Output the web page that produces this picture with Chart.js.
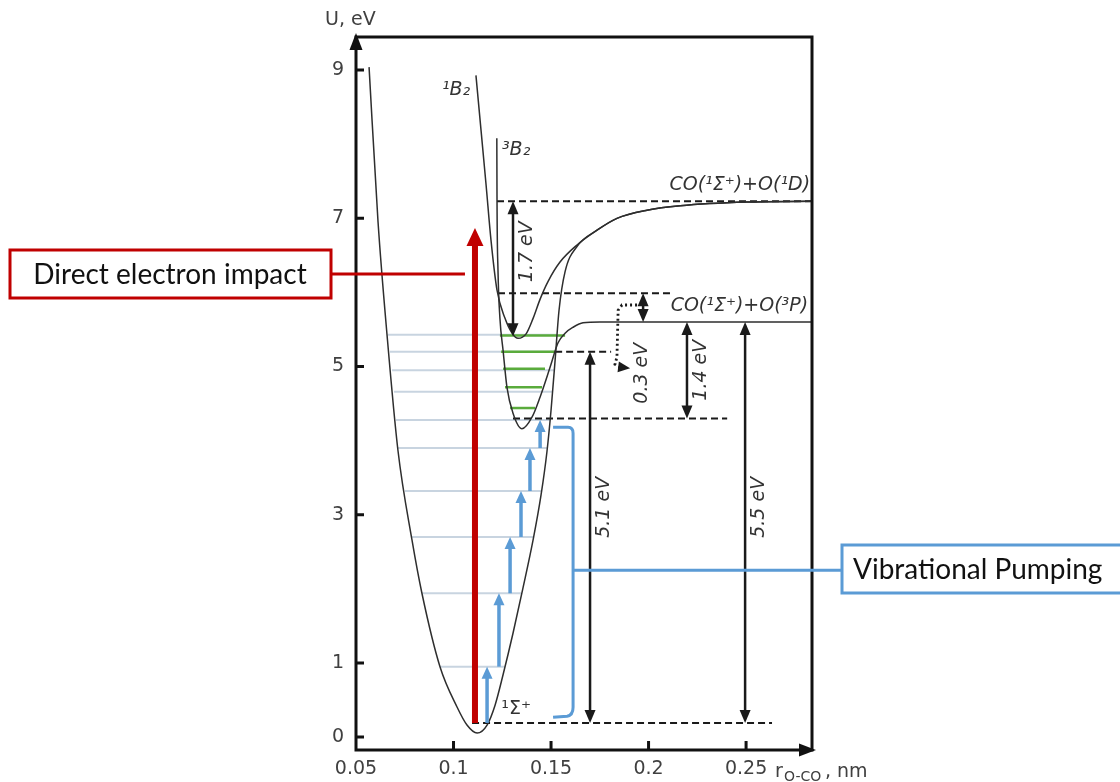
<!DOCTYPE html>
<html>
<head>
<meta charset="utf-8">
<script src="https://cdn.jsdelivr.net/npm/chart.js@4.4.1/dist/chart.umd.min.js"></script>
<style>
html, body { margin: 0; padding: 0; background: #fff; }
</style>
</head>
<body>
<canvas id="pes" width="1120" height="782"></canvas>
<script>
// axis ticks
const xTicks = [0.05, 0.1, 0.15, 0.2, 0.25];
const yTicks = [0, 1, 3, 5, 7, 9];

// potential curves (r in nm, U in eV)
const groundX = [0.0567, 0.0613, 0.0659, 0.0715, 0.0787, 0.0838, 0.0931, 0.1018, 0.1069, 0.1121, 0.1172, 0.1213, 0.1254, 0.1305, 0.1356, 0.1408, 0.1449, 0.1479, 0.1500, 0.1521, 0.1541, 0.1572, 0.1633, 0.1736, 0.1838, 0.1992, 0.2162, 0.2505, 0.2838];
const groundY = [9.04, 6.95, 5.43, 3.87, 2.66, 1.94, 0.945, 0.405, 0.162, 0.054, 0.162, 0.43, 0.84, 1.40, 2.01, 2.66, 3.27, 3.85, 4.41, 5.09, 5.76, 6.28, 6.62, 6.84, 7.00, 7.11, 7.17, 7.22, 7.23];

const b1X = [0.1115, 0.1141, 0.1167, 0.1192, 0.1223, 0.1264, 0.1300, 0.1331, 0.1372, 0.1408, 0.1444, 0.1485, 0.1546, 0.1633, 0.1736, 0.1838, 0.1992, 0.2162, 0.2505, 0.2838];
const b1Y = [8.93, 8.19, 7.45, 6.71, 6.03, 5.65, 5.45, 5.38, 5.44, 5.65, 5.91, 6.15, 6.41, 6.64, 6.84, 7.00, 7.11, 7.17, 7.22, 7.23];

const b3X = [0.1222, 0.1223, 0.1228, 0.1238, 0.1254, 0.1274, 0.1305, 0.1351, 0.1403, 0.1444, 0.1495, 0.1536, 0.1572, 0.1613, 0.1664, 0.1751, 0.2838];
const b3Y = [8.08, 7.25, 6.30, 5.65, 5.22, 4.72, 4.37, 4.16, 4.32, 4.59, 4.99, 5.32, 5.45, 5.53, 5.59, 5.60, 5.60];

// vibrational levels of the ground state
const gsLevels = [0.95, 1.94, 2.70, 3.32, 3.90, 4.28, 4.66, 4.95, 5.20, 5.43];
const gsLeft = [0.0931, 0.0838, 0.0787, 0.0751, 0.0715, 0.0705, 0.0695, 0.0685, 0.0674, 0.0664];
const gsRight = [0.1263, 0.1346, 0.1413, 0.1454, 0.1482, 0.1495, 0.1508, 0.1515, 0.1526, 0.1531];

// vibrational levels in the 3B2 well
const b3Levels = [4.44, 4.72, 4.97, 5.20, 5.42];
const b3Left = [0.1290, 0.1264, 0.1254, 0.1244, 0.1238];
const b3Right = [0.1418, 0.1454, 0.1469, 0.1521, 0.1572];

// dashed reference levels
const dashY = [7.23, 5.99, 5.20, 4.30, 0.19];
const dashFrom = [0.1223, 0.1228, 0.1521, 0.1305, 0.1095];
const dashTo = [0.2838, 0.2110, 0.1808, 0.2403, 0.2633];

// energy gap arrows
const gapX = [0.1305, 0.1972, 0.2197, 0.1700, 0.2495];
const gapLo = [5.41, 5.60, 4.30, 0.19, 0.19];
const gapHi = [7.23, 5.99, 5.60, 5.20, 5.60];
const gapLabels = ['1.7 eV', '', '1.4 eV', '5.1 eV', '5.5 eV'];
const gapLabelY = [6.55, 0, 4.95, 3.10, 3.10];

// vibrational pumping steps
const pumpX = [0.1172, 0.1233, 0.1290, 0.1346, 0.1392, 0.1444];
const pumpFrom = [0.19, 0.95, 1.94, 2.70, 3.32, 3.90];
const pumpTo = [0.95, 1.94, 2.70, 3.32, 3.90, 4.28];

// direct electron impact
const impactX = 0.1110;
const impactFrom = 0.19;
const impactTo = 6.87;

// 0.3 eV dotted path
const dotX = [0.1941, 0.1864, 0.1844, 0.1838, 0.1828, 0.1854];
const dotY = [5.83, 5.83, 5.76, 5.13, 5.03, 4.99];

const pts = (xs, ys) => xs.map((x, i) => ({ x: x, y: ys[i] }));

const datasets = [];
const curve = { borderColor: '#2e2e2e', borderWidth: 1.5, cubicInterpolationMode: 'monotone', pointRadius: 0, showLine: true };
datasets.push(Object.assign({ data: pts(groundX, groundY) }, curve));
datasets.push(Object.assign({ data: pts(b1X, b1Y) }, curve));
datasets.push(Object.assign({ data: pts(b3X, b3Y) }, curve));
dashY.forEach((y, i) => {
    datasets.push({ data: [{ x: dashFrom[i], y: y }, { x: dashTo[i], y: y }], borderColor: '#1a1a1a', borderWidth: 2, borderDash: [7, 4], pointRadius: 0, showLine: true });
});
datasets.push({ data: pts(dotX, dotY), borderColor: '#1a1a1a', borderWidth: 2.8, borderDash: [2, 3], pointRadius: 0, showLine: true });
b3Levels.forEach((y, i) => {
    datasets.push({ data: [{ x: b3Left[i], y: y }, { x: b3Right[i], y: y }], borderColor: '#5aab3c', borderWidth: 2.5, pointRadius: 0, showLine: true });
});
gsLevels.forEach((y, i) => {
    datasets.push({ data: [{ x: gsLeft[i], y: y }, { x: gsRight[i], y: y }], borderColor: '#c8d4e0', borderWidth: 2, pointRadius: 0, showLine: true });
});

function head(ctx, x, y, dx, dy, len, wid, color) {
    ctx.fillStyle = color;
    ctx.beginPath();
    ctx.moveTo(x, y);
    ctx.lineTo(x - dx * len - dy * wid / 2, y - dy * len + dx * wid / 2);
    ctx.lineTo(x - dx * len + dy * wid / 2, y - dy * len - dx * wid / 2);
    ctx.closePath();
    ctx.fill();
}

function vArrow(ctx, x, y1, y2, w, len, wid, color, both) {
    // y1 bottom pixel, y2 top pixel (tip)
    ctx.strokeStyle = color;
    ctx.lineWidth = w;
    ctx.beginPath();
    ctx.moveTo(x, both ? y1 - len + 2 : y1);
    ctx.lineTo(x, y2 + len - 2);
    ctx.stroke();
    head(ctx, x, y2, 0, -1, len, wid, color);
    if (both) head(ctx, x, y1, 0, 1, len, wid, color);
}

function rotText(ctx, s, x, y) {
    ctx.save();
    ctx.translate(x, y);
    ctx.rotate(-Math.PI / 2);
    ctx.textAlign = 'center';
    ctx.textBaseline = 'middle';
    ctx.fillText(s, 0, 0);
    ctx.restore();
}

const extras = {
    id: 'extras',
    afterDatasetsDraw(chart) {
        const ctx = chart.ctx;
        const a = chart.chartArea;
        const sx = chart.scales.x, sy = chart.scales.y;
        const px = v => sx.getPixelForValue(v);
        const py = v => sy.getPixelForValue(v);
        ctx.save();

        // frame and axes
        ctx.strokeStyle = '#111';
        ctx.lineWidth = 3;
        ctx.strokeRect(a.left, a.top, a.right - a.left, a.bottom - a.top);
        head(ctx, a.left, a.top - 4, 0, -1, 17, 13, '#111');
        head(ctx, a.right + 4, a.bottom, 1, 0, 17, 13, '#111');
        ctx.beginPath();
        yTicks.forEach(v => { ctx.moveTo(a.left, py(v)); ctx.lineTo(a.left + 8, py(v)); });
        xTicks.slice(1).forEach(v => { ctx.moveTo(px(v), a.bottom); ctx.lineTo(px(v), a.bottom - 9); });
        ctx.stroke();

        // energy gaps
        ctx.font = 'italic 19px "DejaVu Sans"';
        ctx.fillStyle = '#333';
        gapX.forEach((x, i) => {
            vArrow(ctx, px(x), py(gapLo[i]), py(gapHi[i]), 2.5, 13, 11, '#1a1a1a', true);
            if (gapLabels[i]) {
                ctx.fillStyle = '#333';
                rotText(ctx, gapLabels[i], px(x) + 14, py(gapLabelY[i]));
            }
        });
        // dotted arrow tip and its label
        const n = dotX.length - 1;
        head(ctx, px(dotX[n]) + 10, py(dotY[n]) + 1, 0.99, 0.12, 12, 11, '#1a1a1a');
        ctx.fillStyle = '#333';
        rotText(ctx, '0.3 eV', px(0.1967), py(4.91));

        // vibrational pumping arrows
        pumpX.forEach((x, i) => {
            vArrow(ctx, px(x), py(pumpFrom[i]), py(pumpTo[i]), 3.5, 12, 11, '#5b9bd5', false);
        });

        // direct electron impact
        vArrow(ctx, px(impactX), py(impactFrom), py(impactTo), 6, 18, 17, '#c00000', false);

        // bracket
        const bx = px(0.1613), bt = py(4.18), bb = py(0.32), bm = py(2.25);
        ctx.strokeStyle = '#5b9bd5';
        ctx.lineWidth = 3;
        ctx.beginPath();
        ctx.moveTo(bx - 20, bt);
        ctx.lineTo(bx - 5, bt);
        ctx.quadraticCurveTo(bx, bt, bx, bt + 6);
        ctx.lineTo(bx, bb - 6);
        ctx.quadraticCurveTo(bx, bb + 2, bx - 6, bb + 3);
        ctx.lineTo(bx - 20, bb + 4);
        ctx.moveTo(bx, bm);
        ctx.lineTo(842, bm);
        ctx.stroke();
        ctx.strokeRect(842, 545, 300, 48);

        // red label box
        ctx.strokeStyle = '#c00000';
        ctx.beginPath();
        ctx.moveTo(331, py(6.25));
        ctx.lineTo(px(impactX) - 10, py(6.25));
        ctx.stroke();
        ctx.strokeRect(10, 250, 321, 48);

        ctx.fillStyle = '#111';
        ctx.font = '28px Lato';
        ctx.textAlign = 'center';
        ctx.textBaseline = 'middle';
        ctx.fillText('Direct electron impact', 170, 275);
        ctx.textAlign = 'left';
        ctx.fillText('Vibrational Pumping', 853, 570);

        // state labels
        ctx.fillStyle = '#333';
        ctx.font = 'italic 19px "DejaVu Sans"';
        ctx.textAlign = 'center';
        ctx.fillText('\u00b9B\u2082', px(0.1013), py(8.73));
        ctx.fillText('\u00b3B\u2082', px(0.1321), py(7.92));
        ctx.textAlign = 'right';
        ctx.fillText('CO(\u00b9\u03a3\u207a)+O(\u00b9D)', px(0.2828), py(7.45));
        ctx.fillText('CO(\u00b9\u03a3\u207a)+O(\u00b3P)', px(0.2818), py(5.82));
        ctx.font = '19px "DejaVu Sans"';
        ctx.textAlign = 'center';
        ctx.fillText('\u00b9\u03a3\u207a', px(0.1321), py(0.38));

        // axis titles
        ctx.fillStyle = '#404040';
        ctx.textAlign = 'left';
        ctx.textBaseline = 'alphabetic';
        ctx.fillText('U, eV', 325, 25);
        ctx.fillText('r', 775, 777);
        ctx.font = '14px "DejaVu Sans"';
        ctx.fillText('O-CO', 784, 781);
        ctx.font = '19px "DejaVu Sans"';
        ctx.fillText(', nm', 825, 777);
        ctx.restore();
    }
};

new Chart(document.getElementById('pes'), {
    type: 'scatter',
    data: { datasets: datasets },
    options: {
        responsive: false,
        animation: false,
        devicePixelRatio: 1,
        layout: { padding: { left: 0, top: 37, right: 308, bottom: 0 } },
        plugins: { legend: { display: false }, tooltip: { enabled: false } },
        elements: { line: { capBezierPoints: false } },
        scales: {
            x: {
                type: 'linear',
                min: 0.05,
                max: 0.2838,
                grid: { display: false, drawTicks: false },
                border: { display: false },
                afterBuildTicks: s => { s.ticks = xTicks.map(v => ({ value: v })); },
                afterFit: s => { s.height = 32; },
                ticks: {
                    padding: 8,
                    color: '#404040',
                    font: { family: 'DejaVu Sans', size: 19 },
                    maxRotation: 0,
                    callback: v => String(v)
                }
            },
            y: {
                type: 'linear',
                min: -0.175,
                max: 9.447,
                grid: { display: false, drawTicks: false },
                border: { display: false },
                afterBuildTicks: s => { s.ticks = yTicks.map(v => ({ value: v })); },
                afterFit: s => { s.width = 356; },
                ticks: {
                    padding: 12,
                    color: '#404040',
                    font: { family: 'DejaVu Sans', size: 19 },
                    callback: v => String(v)
                }
            }
        }
    },
    plugins: [extras]
});
</script>
</body>
</html>
